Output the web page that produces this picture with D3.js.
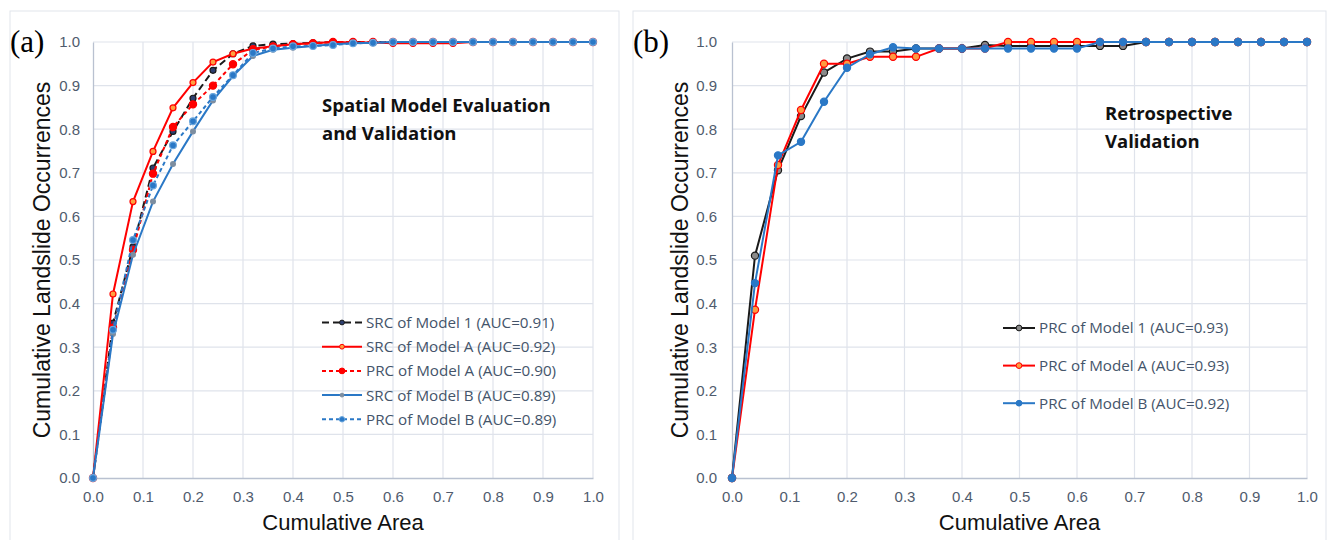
<!DOCTYPE html>
<html>
<head>
<meta charset="utf-8">
<script src="https://cdn.jsdelivr.net/npm/d3@7"></script>
<style>
  body { margin: 0; background: #fff; }
  svg { display: block; }
</style>
</head>
<body>
<div id="chart"></div>
<script>
// cumulative area steps (x values shared by every curve)
const areaSteps = [0, 0.04, 0.08, 0.12, 0.16, 0.2, 0.24, 0.28, 0.32, 0.36, 0.4, 0.44, 0.48,
  0.52, 0.56, 0.6, 0.64, 0.68, 0.72, 0.76, 0.8, 0.84, 0.88, 0.92, 0.96, 1.0];
const tickValues = [0, 0.1, 0.2, 0.3, 0.4, 0.5, 0.6, 0.7, 0.8, 0.9, 1.0];

// panel (a)
const src1 = [0, 0.355, 0.53, 0.711, 0.795, 0.871, 0.935, 0.973, 0.991, 0.995, 0.996, 0.998, 1,
  1, 1, 1, 1, 1, 1, 1, 1, 1, 1, 1, 1, 1];
const srcA = [0, 0.422, 0.634, 0.749, 0.849, 0.907, 0.954, 0.973, 0.985, 0.99, 0.995, 0.997, 1,
  0.999, 0.999, 0.997, 0.997, 0.997, 0.997, 1, 1, 1, 1, 1, 1, 1];
const prcA = [0, 0.345, 0.523, 0.698, 0.805, 0.857, 0.9, 0.949, 0.982, 0.99, 0.995, 0.997, 1,
  1, 1, 1, 1, 1, 1, 1, 1, 1, 1, 1, 1, 1];
const srcB = [0, 0.33, 0.512, 0.634, 0.72, 0.795, 0.866, 0.922, 0.968, 0.982, 0.987, 0.991, 0.995,
  0.997, 0.998, 1, 1, 1, 1, 1, 1, 1, 1, 1, 1, 1];
const prcB = [0, 0.34, 0.546, 0.671, 0.763, 0.818, 0.874, 0.924, 0.975, 0.985, 0.99, 0.991, 0.993,
  0.997, 0.998, 1, 1, 1, 1, 1, 1, 1, 1, 1, 1, 1];
const labelsA = ['SRC of Model 1 (AUC=0.91)', 'SRC of Model A (AUC=0.92)', 'PRC of Model A (AUC=0.90)',
  'SRC of Model B (AUC=0.89)', 'PRC of Model B (AUC=0.89)'];

// panel (b)
const retro1 = [0, 0.51, 0.706, 0.83, 0.93, 0.962, 0.978, 0.978, 0.985, 0.985, 0.985, 0.993, 0.991,
  0.991, 0.991, 0.991, 0.991, 0.991, 1, 1, 1, 1, 1, 1, 1, 1];
const retroA = [0, 0.386, 0.718, 0.844, 0.95, 0.95, 0.966, 0.966, 0.966, 0.985, 0.985, 0.985, 1,
  1, 1, 1, 1, 1, 1, 1, 1, 1, 1, 1, 1, 1];
const retroB = [0, 0.447, 0.74, 0.771, 0.863, 0.941, 0.972, 0.988, 0.985, 0.985, 0.985, 0.985, 0.985,
  0.985, 0.985, 0.985, 1, 1, 1, 1, 1, 1, 1, 1, 1, 1];
const labelsB = ['PRC of Model 1 (AUC=0.93)', 'PRC of Model A (AUC=0.93)', 'PRC of Model B (AUC=0.92)'];

const red = '#ff0000', blue = '#2a78c6', black = '#1a1a1a';
const tickColor = '#4f5b6d';

const svg = d3.select('#chart').append('svg')
  .attr('width', 1328).attr('height', 540);

function drawPanel(p) {
  const g = svg.append('g');

  // panel frame
  g.append('rect')
    .attr('x', p.frame[0]).attr('y', 11)
    .attr('width', p.frame[1] - p.frame[0]).attr('height', 560)
    .attr('fill', 'none').attr('stroke', '#e1e5ec').attr('stroke-width', 1);

  const x = d3.scaleLinear().domain([0, 1]).range([p.left, p.right]);
  const y = d3.scaleLinear().domain([0, 1]).range([478, 42]);

  // grid
  g.append('g')
    .selectAll('line.v')
    .data(tickValues.slice(1))
    .join('line')
      .attr('x1', d => x(d)).attr('x2', d => x(d))
      .attr('y1', y(0)).attr('y2', y(1))
      .attr('stroke', '#dfe3eb').attr('stroke-width', 1.2);
  g.append('g')
    .selectAll('line.h')
    .data(tickValues.slice(1))
    .join('line')
      .attr('x1', x(0)).attr('x2', x(1))
      .attr('y1', d => y(d)).attr('y2', d => y(d))
      .attr('stroke', '#dfe3eb').attr('stroke-width', 1.2);

  function xAxis(gx) {
    gx.attr('transform', `translate(0, ${y(0)})`)
      .call(d3.axisBottom(x).tickValues(tickValues).tickFormat(d3.format('.1f')).tickSize(0).tickPadding(13))
      .attr('font-size', '15px')
      .attr('font-family', 'Liberation Sans, Arial, sans-serif');
    gx.select('.domain').attr('stroke', '#b9c1d0').attr('stroke-width', 1.3);
    gx.selectAll('text').attr('fill', tickColor);
  }
  function yAxis(gy) {
    gy.attr('transform', `translate(${x(0)}, 0)`)
      .call(d3.axisLeft(y).tickValues(tickValues).tickFormat(d3.format('.1f')).tickSize(0).tickPadding(p.ypad))
      .attr('font-size', '15px')
      .attr('font-family', 'Liberation Sans, Arial, sans-serif');
    gy.select('.domain').attr('stroke', '#b9c1d0').attr('stroke-width', 1.3);
    gy.selectAll('text').attr('fill', tickColor);
  }
  g.append('g').call(xAxis);
  g.append('g').call(yAxis);

  // axis titles
  g.append('text')
    .attr('x', (x(0) + x(1)) / 2).attr('y', 530)
    .attr('text-anchor', 'middle')
    .attr('font-family', 'Liberation Sans, Arial, sans-serif')
    .attr('font-size', '22px').attr('fill', '#111')
    .text('Cumulative Area');
  g.append('text')
    .attr('transform', `translate(${p.ytitleX}, ${(y(0) + y(1)) / 2}) rotate(-90)`)
    .attr('text-anchor', 'middle')
    .attr('font-family', 'Liberation Sans, Arial, sans-serif')
    .attr('font-size', '23px').attr('fill', '#111')
    .text('Cumulative Landslide Occurrences');

  // panel letter
  g.append('text')
    .attr('x', p.frame[0]).attr('y', 52)
    .attr('font-family', 'Liberation Serif, Times New Roman, serif')
    .attr('font-size', '31px').attr('fill', '#000')
    .text(p.letter);

  // note
  g.append('text')
    .attr('font-family', 'Open Sans, sans-serif')
    .attr('font-weight', 'bold').attr('font-size', '18.5px').attr('fill', '#111')
    .selectAll('tspan')
    .data(p.note)
    .join('tspan')
      .attr('x', p.noteX)
      .attr('y', (d, i) => p.noteY + i * 27.8)
      .text(d => d);

  const line = d3.line()
    .x((d, i) => x(areaSteps[i]))
    .y(d => y(d));

  p.series.forEach(s => {
    g.append('path')
      .datum(s.values)
      .attr('fill', 'none')
      .attr('stroke', s.color)
      .attr('stroke-width', 2)
      .attr('stroke-dasharray', s.dash || null)
      .attr('d', line);
    g.append('g')
      .selectAll('circle')
      .data(s.values)
      .join('circle')
        .attr('cx', (d, i) => x(areaSteps[i]))
        .attr('cy', d => y(d))
        .attr('r', s.r)
        .attr('fill', s.fill)
        .attr('stroke', s.stroke)
        .attr('stroke-width', 1.2);
  });

  // legend
  const lg = g.append('g');
  p.series.forEach((s, i) => {
    const ly = p.legendY + i * p.legendStep;
    const [l0, l1] = p.legendLine;
    lg.append('line')
      .attr('x1', l0).attr('x2', l1).attr('y1', ly).attr('y2', ly)
      .attr('stroke', s.color).attr('stroke-width', 2)
      .attr('stroke-dasharray', s.dash || null);
    lg.append('circle')
      .attr('cx', (l0 + l1) / 2).attr('cy', ly).attr('r', s.r * 0.8)
      .attr('fill', s.fill).attr('stroke', s.stroke).attr('stroke-width', 1);
    lg.append('text')
      .attr('x', l1 + 4).attr('y', ly).attr('dy', '0.36em')
      .attr('font-family', 'Open Sans, sans-serif')
      .attr('font-size', '15.2px').attr('fill', '#44546a')
      .text(s.label);
  });
}

drawPanel({
  letter: '(a)', frame: [10, 619], left: 93, right: 593, ypad: 13, ytitleX: 50,
  note: ['Spatial Model Evaluation', 'and Validation'], noteX: 322, noteY: 112,
  legendY: 322.5, legendStep: 24.2, legendLine: [322, 362],
  series: [
    { values: src1, label: labelsA[0], color: black, dash: '7,4', r: 3, fill: '#2d3f70', stroke: black },
    { values: srcA, label: labelsA[1], color: red, r: 3, fill: '#ffa040', stroke: red },
    { values: prcA, label: labelsA[2], color: red, dash: '4,3', r: 3.6, fill: red, stroke: red },
    { values: srcB, label: labelsA[3], color: blue, r: 2.4, fill: '#7d8ea0', stroke: '#7d8ea0' },
    { values: prcB, label: labelsA[4], color: blue, dash: '4,3', r: 3.4, fill: blue, stroke: '#6aa6dd' }
  ]
});

drawPanel({
  letter: '(b)', frame: [633, 1326], left: 732, right: 1307, ypad: 15, ytitleX: 688,
  note: ['Retrospective', 'Validation'], noteX: 1105, noteY: 120,
  legendY: 328, legendStep: 37.6, legendLine: [1003, 1035],
  series: [
    { values: retro1, label: labelsB[0], color: black, r: 3.6, fill: '#8a8a8a', stroke: black },
    { values: retroA, label: labelsB[1], color: red, r: 3.6, fill: '#ff9a40', stroke: red },
    { values: retroB, label: labelsB[2], color: blue, r: 3.6, fill: blue, stroke: blue }
  ]
});
</script>
</body>
</html>
